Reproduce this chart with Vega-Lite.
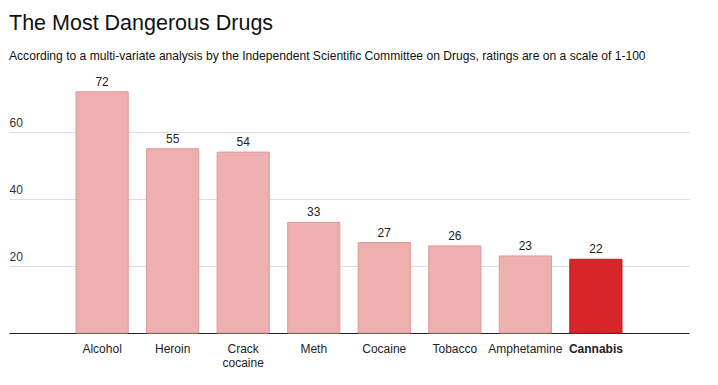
{
  "$schema": "https://vega.github.io/schema/vega-lite/v6.json",
  "width": 680,
  "height": 268,
  "autosize": "none",
  "padding": {"left": 9, "top": 65, "right": 29, "bottom": 52},
  "background": "white",
  "view": {"stroke": null},
  "title": {
    "text": "The Most Dangerous Drugs",
    "subtitle": "According to a multi-variate analysis by the Independent Scientific Committee on Drugs, ratings are on a scale of 1-100",
    "anchor": "start",
    "frame": "group",
    "font": "Liberation Sans",
    "fontSize": 21.5,
    "fontWeight": "normal",
    "color": "#111",
    "subtitleFont": "Liberation Sans",
    "subtitleFontSize": 12.1,
    "subtitleColor": "#111",
    "subtitlePadding": 15,
    "offset": 3
  },
  "data": {
    "values": [
      {"drug": "Alcohol", "score": 72, "highlight": "no"},
      {"drug": "Heroin", "score": 55, "highlight": "no"},
      {"drug": "Crack cocaine", "score": 54, "highlight": "no"},
      {"drug": "Meth", "score": 33, "highlight": "no"},
      {"drug": "Cocaine", "score": 27, "highlight": "no"},
      {"drug": "Tobacco", "score": 26, "highlight": "no"},
      {"drug": "Amphetamine", "score": 23, "highlight": "no"},
      {"drug": "Cannabis", "score": 22, "highlight": "yes"}
    ]
  },
  "encoding": {
    "x": {
      "field": "drug",
      "type": "nominal",
      "sort": null,
      "scale": {"paddingInner": 0.26, "paddingOuter": 0.95},
      "axis": {
        "title": null,
        "domain": true,
        "domainColor": "#222",
        "domainWidth": 1,
        "ticks": false,
        "labelAngle": 0,
        "labelPadding": 10,
        "labelFont": "Liberation Sans",
        "labelFontSize": 12,
        "labelColor": "#222",
        "labelExpr": "datum.label == 'Crack cocaine' ? ['Crack', 'cocaine'] : datum.label",
        "labelFontWeight": {"condition": {"test": "datum.label == 'Cannabis'", "value": "bold"}, "value": "normal"},
        "labelLineHeight": 14
      }
    },
    "y": {
      "field": "score",
      "type": "quantitative",
      "scale": {"domain": [0, 80], "nice": false},
      "axis": {
        "title": null,
        "values": [20, 40, 60],
        "domain": false,
        "ticks": false,
        "grid": true,
        "gridColor": "#dddddd",
        "gridWidth": 1,
        "labelAlign": "left",
        "labelBaseline": "bottom",
        "labelPadding": 0,
        "labelOffset": -3,
        "labelFont": "Liberation Sans",
        "labelFontSize": 12,
        "labelColor": "#333"
      }
    }
  },
  "layer": [
    {
      "mark": {"type": "bar", "strokeWidth": 1},
      "encoding": {
        "color": {
          "field": "highlight",
          "type": "nominal",
          "scale": {"domain": ["no", "yes"], "range": ["#eeafaf", "#d7262a"]},
          "legend": null
        },
        "stroke": {
          "field": "highlight",
          "type": "nominal",
          "scale": {"domain": ["no", "yes"], "range": ["#df9a9a", "#c01b20"]},
          "legend": null
        }
      }
    },
    {
      "mark": {"type": "text", "baseline": "bottom", "dy": -3, "font": "Liberation Sans", "fontSize": 12, "color": "#222"},
      "encoding": {"text": {"field": "score", "type": "quantitative"}}
    }
  ]
}
